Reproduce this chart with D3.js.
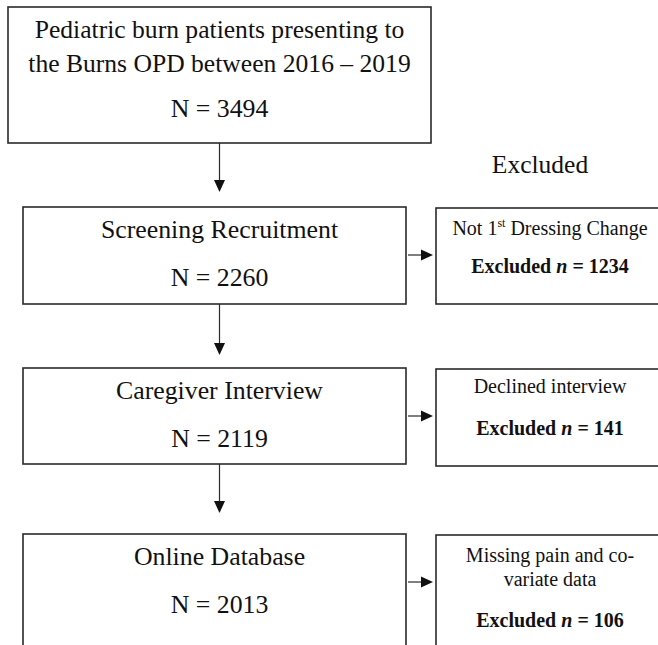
<!DOCTYPE html>
<html lang="en">
<head>
    <meta charset="UTF-8" />
    <title>Flow diagram</title>
    <script src="https://d3js.org/d3.v7.min.js"></script>
    <style>
        body { margin: 0; background: #fff; }
        text { font-family: "Liberation Serif", "Times New Roman", serif; fill: #111; }
    </style>
</head>
<body>
    <div id="flow"></div>
    <script>
        var w = 658;
        var h = 645;

        // data
        var stageLines = [
            ["Pediatric burn patients presenting to", "the Burns OPD between 2016 \u2013 2019"],
            ["Screening Recruitment"],
            ["Caregiver Interview"],
            ["Online Database"]
        ];
        var stageN = [3494, 2260, 2119, 2013];
        var excludedLines = [null, ["Not 1|st| Dressing Change"], ["Declined interview"], ["Missing pain and co-", "variate data"]];
        var excludedN = [null, 1234, 141, 106];
        var stageIdx = d3.range(stageN.length);

        // layout
        var boxTop = d3.scaleOrdinal().domain(stageIdx).range([7, 207, 368, 534]);
        var boxHeight = d3.scaleOrdinal().domain(stageIdx).range([136, 97, 96, 130]);
        var boxLeft = d3.scaleOrdinal().domain(stageIdx).range([8, 23, 23, 23]);
        var boxRight = d3.scaleOrdinal().domain(stageIdx).range([431, 406, 406, 406]);
        var mainSize = d3.scaleOrdinal().domain(stageIdx).range([25.6, 25.8, 25.8, 25.8]);
        var exLeft = 436, exRight = 664;
        var centerX = 219.5;
        var exCenter = 550;

        var svg = d3.select("#flow")
            .append("svg")
            .attr("width", w)
            .attr("height", h);

        var lineColor = "#2a2a2a";

        // main boxes
        svg.selectAll(".stage")
            .data(stageIdx)
            .enter()
            .append("rect")
            .attr("class", "stage")
            .attr("x", function (i) { return boxLeft(i); })
            .attr("y", function (i) { return boxTop(i); })
            .attr("width", function (i) { return boxRight(i) - boxLeft(i); })
            .attr("height", function (i) { return boxHeight(i); })
            .style("fill", "none")
            .style("stroke", lineColor)
            .style("stroke-width", 1.6);

        stageIdx.forEach(function (i) {
            var lines = stageLines[i];
            var y0 = boxTop(i) + 31;
            lines.forEach(function (t, k) {
                svg.append("text")
                    .attr("x", centerX)
                    .attr("y", y0 + k * 34)
                    .attr("text-anchor", "middle")
                    .style("font-size", mainSize(i) + "px")
                    .text(t);
            });
            svg.append("text")
                .attr("x", centerX)
                .attr("y", y0 + (lines.length - 1) * 34 + (lines.length > 1 ? 45 : 48))
                .attr("text-anchor", "middle")
                .style("font-size", "25.8px")
                .text("N = " + stageN[i]);
        });

        // arrow heads
        function arrowHead(x, y, dir) {
            var p = d3.path();
            if (dir === "down") {
                p.moveTo(x - 5.5, y - 12); p.lineTo(x + 5.5, y - 12); p.lineTo(x, y);
            } else {
                p.moveTo(x - 12, y - 5.5); p.lineTo(x - 12, y + 5.5); p.lineTo(x, y);
            }
            p.closePath();
            svg.append("path").attr("d", p.toString()).style("fill", "#111");
        }

        // down arrows
        var downTips = [192, 355, 513];
        d3.range(stageN.length - 1).forEach(function (i) {
            var y1 = boxTop(i) + boxHeight(i);
            svg.append("line")
                .attr("x1", centerX).attr("x2", centerX)
                .attr("y1", y1).attr("y2", downTips[i] - 10)
                .style("stroke", lineColor).style("stroke-width", 1.2);
            arrowHead(centerX, downTips[i], "down");
        });

        // excluded header
        svg.append("text")
            .attr("x", 540)
            .attr("y", 173)
            .attr("text-anchor", "middle")
            .style("font-size", "25.5px")
            .text("Excluded");

        // excluded boxes
        stageIdx.filter(function (i) { return excludedN[i] !== null; }).forEach(function (i) {
            var top = boxTop(i) + 1;
            svg.append("rect")
                .attr("x", exLeft).attr("y", top)
                .attr("width", exRight - exLeft)
                .attr("height", boxHeight(i) - (i === 2 ? -1 : 1))
                .style("fill", "none")
                .style("stroke", lineColor)
                .style("stroke-width", 1.6);

            var lines = excludedLines[i];
            var y0 = top + (i === 2 ? 24 : 27);
            lines.forEach(function (t, k) {
                var txt = svg.append("text")
                    .attr("x", exCenter)
                    .attr("y", y0 + k * 24)
                    .attr("text-anchor", "middle")
                    .style("font-size", "20px");
                var parts = t.split("|");
                parts.forEach(function (part, j) {
                    var ts = txt.append("tspan").text(part);
                    if (j === 1) {
                        ts.attr("dy", "-8").style("font-size", "12px");
                    } else if (j === 2) {
                        ts.attr("dy", "8");
                    }
                });
            });
            var lastY = y0 + (lines.length - 1) * 24;
            var nt = svg.append("text")
                .attr("x", exCenter)
                .attr("y", lastY + (i === 2 ? 42 : (lines.length > 1 ? 41 : 38)))
                .attr("text-anchor", "middle")
                .style("font-size", "20px")
                .style("font-weight", "bold");
            nt.append("tspan").text("Excluded ");
            nt.append("tspan").style("font-style", "italic").text("n");
            nt.append("tspan").text(" = " + excludedN[i]);

            // side arrow
            var ay = boxTop(i) + 48;
            svg.append("line")
                .attr("x1", boxRight(i) + 2).attr("x2", exLeft - 10)
                .attr("y1", ay).attr("y2", ay)
                .style("stroke", lineColor).style("stroke-width", 1.2);
            arrowHead(exLeft - 3, ay, "right");
        });
    </script>
</body>
</html>
